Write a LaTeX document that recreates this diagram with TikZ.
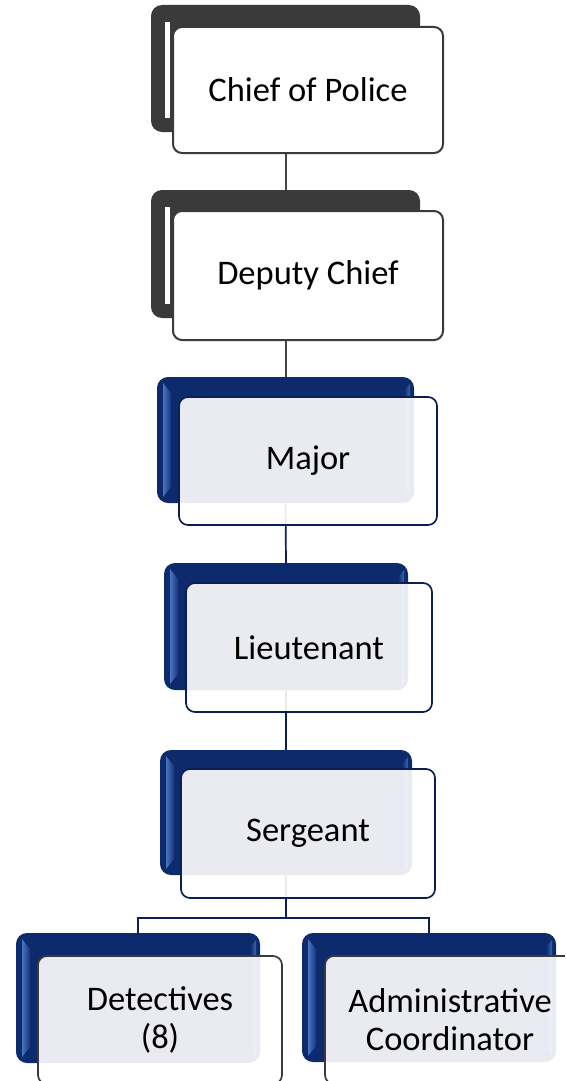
\documentclass[tikz,border=0pt]{standalone}
\usepackage{fontspec}
\setmainfont{Carlito}
\usetikzlibrary{calc}
\definecolor{slate}{HTML}{3A3A3A}
\definecolor{slateline}{HTML}{454545}
\definecolor{navy}{HTML}{0C2A6C}
\definecolor{navyedge}{HTML}{0A1F56}
\definecolor{navylight}{HTML}{4A74C0}
\newcommand{\labelfont}{\fontsize{34.5}{38}\selectfont}
% lighter bevel along the left edge of a navy back plate
\newcommand{\navybevel}[1]{%
  \shade[left color=navylight, right color=navy!85!navylight]
    ($(#1.north west)+(6,6)$) -- ($(#1.north west)+(14,16)$) --
    ($(#1.south west)+(14,-16)$) -- ($(#1.south west)+(6,-6)$) -- cycle;
  \shade[left color=navy, right color=navylight!80!navy]
    ($(#1.north east)+(-10,14)$) -- ($(#1.north east)+(-4,7)$) --
    ($(#1.south east)+(-4,-7)$) -- ($(#1.south east)+(-10,-14)$) -- cycle;}
% white highlight strip inside a grey back plate
\newcommand{\graybevel}[1]{%
  \fill[white] ($(#1.north west)+(14,17)$) rectangle ($(#1.south west)+(19,-14)$);}
\begin{document}
\begin{tikzpicture}[x=1pt,y=-1pt,
  every node/.style={inner sep=0pt, outer sep=0pt},
  backgray/.style={rectangle, rounded corners=11pt, fill=slate},
  frontgray/.style={rectangle, rounded corners=9pt, fill=white, draw=slate,
    line width=2pt, font=\labelfont, align=center},
  backnavy/.style={rectangle, rounded corners=11pt, fill=navy},
  frontnavy/.style={rectangle, rounded corners=9pt, fill=white,
    fill opacity=0.91, text opacity=1, draw=navyedge, draw opacity=1,
    line width=1.7pt, font=\labelfont, align=center},
  frontleaf/.style={frontnavy, draw=slate},
  grayline/.style={draw=slateline, line width=2pt},
  navyline/.style={draw=navyedge, line width=1.7pt}]
\useasboundingbox (0,0) rectangle (565,1081);
\clip (0,0) rectangle (565,1081);
\fill[white] (0,0) rectangle (565,1081);

% back plates
\node[backgray, minimum width=269, minimum height=127] (chiefb) at (285.5,68.5) {};
\node[backgray, minimum width=269, minimum height=128] (depb) at (285.5,254) {};
\node[backnavy, minimum width=257, minimum height=126] (majb) at (285.5,440) {};
\node[backnavy, minimum width=244, minimum height=127] (ltb) at (286,626.5) {};
\node[backnavy, minimum width=252, minimum height=125] (sgtb) at (286,812.5) {};
\node[backnavy, minimum width=244, minimum height=130] (detb) at (138,998) {};
\node[backnavy, minimum width=254, minimum height=129] (admb) at (429,997.5) {};
\graybevel{chiefb}
\graybevel{depb}
\navybevel{majb}
\navybevel{ltb}
\navybevel{sgtb}
\navybevel{detb}
\navybevel{admb}

% reporting lines
\draw[grayline] (chiefb.south) -- (depb.north);
\draw[grayline] (depb.south) -- (majb.north);
\draw[navyline] (majb.south) -- (ltb.north);
\draw[navyline] (ltb.south) -- (sgtb.north);
\coordinate (split) at (286,918);
\draw[navyline] (sgtb.south) -- (split);
\draw[navyline] (detb.north) |- (split) -| (admb.north);

% front cards with titles
\node[frontgray, minimum width=270, minimum height=126] (chief) at (308,90) {Chief of Police};
\node[frontgray, minimum width=270, minimum height=129] (dep) at (308,275.5) {Deputy Chief};
\node[frontnavy, minimum width=258, minimum height=128] (maj) at (308,461) {Major};
\node[frontnavy, minimum width=246, minimum height=129] (lt) at (309,647.5) {Lieutenant};
\node[frontnavy, minimum width=254, minimum height=129] (sgt) at (308,833.5) {Sergeant};
\node[frontleaf, minimum width=244, minimum height=128] (det) at (160,1020) {Detectives\\(8)};
\node[frontleaf, minimum width=250, minimum height=128] (adm) at (450,1020) {Administrative\\Coordinator};
\end{tikzpicture}
\end{document}
